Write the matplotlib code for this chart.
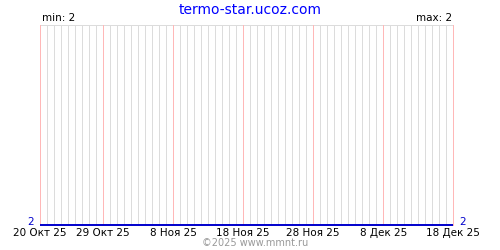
import matplotlib
matplotlib.use("Agg")
import matplotlib.pyplot as plt
import matplotlib.dates as mdates
from datetime import date, timedelta

# Data
dates = [date(2025, 10, 20), date(2025, 12, 18)]
values = [2, 2]
tick_dates = [date(2025, 10, 20), date(2025, 10, 29), date(2025, 11, 8),
              date(2025, 11, 18), date(2025, 11, 28), date(2025, 12, 8),
              date(2025, 12, 18)]
tick_labels = ["20 Окт 25", "29 Окт 25", "8 Ноя 25", "18 Ноя 25",
               "28 Ноя 25", "8 Дек 25", "18 Дек 25"]
title = "termo-star.ucoz.com"
min_text = "min: 2"
max_text = "max: 2"
footer = "©2025 www.mmnt.ru"

fig = plt.figure(figsize=(5, 2.5), dpi=100)
ax = fig.add_axes([0.08, 0.10, 0.8267, 0.80])

x0 = mdates.date2num(dates[0])
x1 = mdates.date2num(dates[-1])
ax.set_xlim(x0, x1)
ax.set_ylim(2, 3)

px = 0.72
tick_nums = set(mdates.date2num(t) for t in tick_dates)
# daily grid lines
d = dates[0]
while d <= dates[-1]:
    xn = mdates.date2num(d)
    if xn not in tick_nums:
        ax.axvline(xn, color="#dcdcdc", lw=px, zorder=1,
                   antialiased=False, clip_on=False)
    d += timedelta(days=1)
for xn in tick_nums:
    ax.axvline(xn, color="#ffb8b8", lw=px, zorder=2,
               antialiased=False, clip_on=False)
ax.axhline(3, color="#dcdcdc", lw=px, zorder=1, clip_on=False, antialiased=False)

ax.plot([mdates.date2num(v) for v in dates], values, color="#0000cc",
        lw=1.4, zorder=3, clip_on=False, solid_capstyle="butt")

for s in ax.spines.values():
    s.set_visible(False)
ax.set_yticks([])
ax.set_xticks([mdates.date2num(t) for t in tick_dates])
ax.set_xticklabels(tick_labels, fontsize=7.5)
ax.tick_params(axis="x", length=0, pad=2.0)

fig.text(0.5, 0.99, title, color="#0000ff", fontsize=10, ha="center", va="top")
fig.text(0.083, 0.908, min_text, fontsize=7.5, ha="left", va="bottom")
fig.text(0.904, 0.908, max_text, fontsize=7.5, ha="right", va="bottom")
ax.text(-0.014, 2.015, str(values[0]), transform=ax.get_yaxis_transform(),
        color="#0000cc", fontsize=7.5, ha="right", va="center")
ax.text(1.014, 2.015, str(values[-1]), transform=ax.get_yaxis_transform(),
        color="#0000cc", fontsize=7.5, ha="left", va="center")
fig.text(0.51, 0.01, footer, color="#999999", fontsize=7, ha="center", va="bottom")

fig.savefig("out.png", dpi=100)
